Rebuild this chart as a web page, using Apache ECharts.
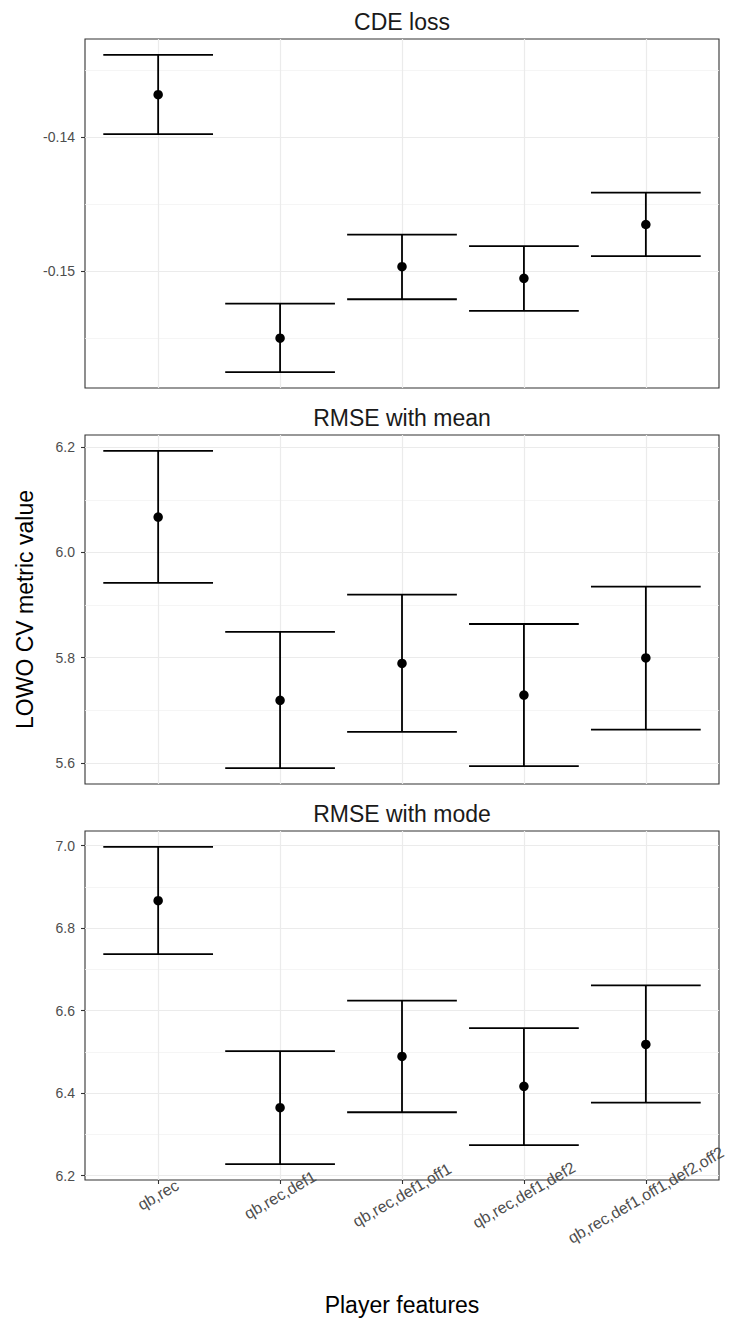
<!DOCTYPE html>
<html>
<head>
<meta charset="utf-8">
<script src="https://cdn.jsdelivr.net/npm/echarts@6/dist/echarts.min.js"></script>
<style>
  html, body {margin: 0; padding: 0; background: #fff;}
  #chart {width: 730px; height: 1322px;}
</style>
</head>
<body>
<div id="chart"></div>
<script>
const categories = ['qb,rec', 'qb,rec,def1', 'qb,rec,def1,off1', 'qb,rec,def1,def2', 'qb,rec,def1,off1,def2,off2']

// CDE loss
const cdeMean = [-0.13686, -0.15500, -0.14967, -0.15054, -0.14653]
const cdeLower = [-0.13980, -0.15753, -0.15210, -0.15297, -0.14889]
const cdeUpper = [-0.13389, -0.15243, -0.14728, -0.14814, -0.14416]
const cdeMajorTicks = [-0.15, -0.14]
const cdeMinorTicks = [-0.155, -0.145, -0.135]

// RMSE with mean
const rmseMeanMean = [6.0673, 5.7187, 5.7890, 5.7287, 5.7994]
const rmseMeanLower = [5.9423, 5.5898, 5.6586, 5.5936, 5.6630]
const rmseMeanUpper = [6.1932, 5.8489, 5.9198, 5.8639, 5.9350]
const rmseMeanMajorTicks = [5.6, 5.8, 6.0, 6.2]
const rmseMeanMinorTicks = [5.7, 5.9, 6.1]

// RMSE with mode
const rmseModeMean = [6.8663, 6.3645, 6.4888, 6.4162, 6.5178]
const rmseModeLower = [6.7366, 6.2276, 6.3534, 6.2735, 6.3766]
const rmseModeUpper = [6.9969, 6.5016, 6.6242, 6.5572, 6.6611]
const rmseModeMajorTicks = [6.2, 6.4, 6.6, 6.8, 7.0]
const rmseModeMinorTicks = [6.3, 6.5, 6.7, 6.9]

const panels = [
  {title: 'CDE loss', mean: cdeMean, lower: cdeLower, upper: cdeUpper, major: cdeMajorTicks, minor: cdeMinorTicks, digits: 2},
  {title: 'RMSE with mean', mean: rmseMeanMean, lower: rmseMeanLower, upper: rmseMeanUpper, major: rmseMeanMajorTicks, minor: rmseMeanMinorTicks, digits: 1},
  {title: 'RMSE with mode', mean: rmseModeMean, lower: rmseModeLower, upper: rmseModeUpper, major: rmseModeMajorTicks, minor: rmseModeMinorTicks, digits: 1},
]

const font = '"Liberation Sans", Arial, Helvetica, sans-serif'
const gridTops = [39, 435, 831]
const gridHeight = 349
const gridLeft = 85
const gridWidth = 634
const xPositions = categories.map((c, i) => i + 1)
const capHalf = 0.45

const grids = [], xAxes = [], yAxes = [], series = [], graphics = []

panels.forEach((p, k) => {
  // ggplot-like 5% expansion of the y range
  const lo = Math.min(...p.lower, ...p.mean)
  const hi = Math.max(...p.upper, ...p.mean)
  const pad = (hi - lo) * 0.05
  const isBottom = k === panels.length - 1

  grids.push({
    left: gridLeft, top: gridTops[k], width: gridWidth, height: gridHeight,
    show: true, borderColor: '#333333', borderWidth: 1.1, backgroundColor: '#fff',
  })

  xAxes.push({
    gridIndex: k, type: 'value', min: 0.4, max: 5.6,
    axisLine: {show: false},
    axisTick: {show: isBottom, customValues: xPositions, length: 4, lineStyle: {color: '#333333', width: 1.1}},
    axisLabel: {
      show: isBottom, customValues: xPositions,
      formatter: v => categories[Math.round(v) - 1],
      rotate: 30, align: 'center', verticalAlign: 'middle', margin: 15,
      fontSize: 16, color: '#4D4D4D', fontFamily: font,
    },
    splitLine: {show: true, customValues: xPositions, lineStyle: {color: '#EBEBEB', width: 1.2}},
    name: isBottom ? 'Player features' : '',
    nameLocation: 'middle', nameGap: 113,
    nameTextStyle: {fontSize: 23, color: '#000', fontFamily: font},
  })

  // major y axis (ticks, labels, major grid lines)
  yAxes.push({
    gridIndex: k, type: 'value', position: 'left',
    min: lo - pad, max: hi + pad,
    axisLine: {show: false},
    axisTick: {show: true, customValues: p.major, length: 4, lineStyle: {color: '#333333', width: 1.1}},
    axisLabel: {
      customValues: p.major, formatter: v => v.toFixed(p.digits),
      margin: 10, fontSize: 14, color: '#4D4D4D', fontFamily: font,
    },
    splitLine: {show: true, customValues: p.major, lineStyle: {color: '#EBEBEB', width: 1.2}},
    name: k === 1 ? 'LOWO CV metric value' : '',
    nameLocation: 'middle', nameGap: 49, nameRotate: 90,
    nameTextStyle: {fontSize: 23, color: '#000', fontFamily: font},
  })
  // minor grid lines
  yAxes.push({
    gridIndex: k, type: 'value', position: 'left',
    min: lo - pad, max: hi + pad,
    axisLine: {show: false},
    axisTick: {show: false, customValues: p.minor},
    axisLabel: {show: false, customValues: p.minor},
    splitLine: {show: true, customValues: p.minor, lineStyle: {color: '#F2F2F2', width: 0.8}},
  })

  series.push({
    type: 'custom',
    xAxisIndex: k, yAxisIndex: 2 * k,
    data: xPositions.map((x, i) => [x, p.lower[i], p.upper[i]]),
    encode: {x: 0, y: [1, 2]},
    renderItem: function (params, api) {
      const x = api.value(0)
      const pLo = api.coord([x, api.value(1)])
      const pHi = api.coord([x, api.value(2)])
      const l = api.coord([x - capHalf, api.value(1)])[0]
      const r = api.coord([x + capHalf, api.value(1)])[0]
      const style = {stroke: '#000', lineWidth: 1.8}
      return {
        type: 'group',
        children: [
          {type: 'line', shape: {x1: pLo[0], y1: pLo[1], x2: pHi[0], y2: pHi[1]}, style},
          {type: 'line', shape: {x1: l, y1: pLo[1], x2: r, y2: pLo[1]}, style},
          {type: 'line', shape: {x1: l, y1: pHi[1], x2: r, y2: pHi[1]}, style},
        ],
      }
    },
    z: 2,
  })

  series.push({
    type: 'scatter',
    xAxisIndex: k, yAxisIndex: 2 * k,
    data: xPositions.map((x, i) => [x, p.mean[i]]),
    symbolSize: 9.5,
    itemStyle: {color: '#000', opacity: 1},
    z: 3,
  })

  graphics.push({
    type: 'text',
    x: gridLeft + gridWidth / 2, y: gridTops[k] - 17,
    style: {
      text: p.title, fill: '#1A1A1A', font: '23px ' + font,
      textAlign: 'center', textVerticalAlign: 'middle',
    },
  })
})

const myChart = echarts.init(document.getElementById('chart'), null, {renderer: 'svg'})
myChart.setOption({
  animation: false,
  backgroundColor: '#fff',
  grid: grids,
  xAxis: xAxes,
  yAxis: yAxes,
  series: series,
  graphic: graphics,
})
window.addEventListener('resize', () => myChart.resize())
</script>
</body>
</html>
